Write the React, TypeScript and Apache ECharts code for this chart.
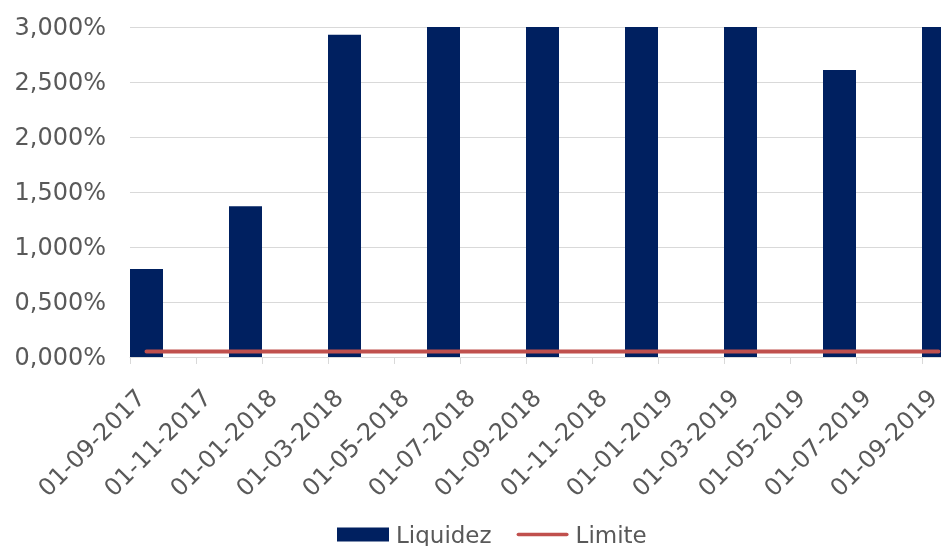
import React, { useEffect, useRef } from "react";
import * as echarts from "echarts";

// Monthly categories: 01-09-2017 ... 01-09-2019
const monthLabels = [
  "01-09-2017", "01-10-2017", "01-11-2017", "01-12-2017", "01-01-2018",
  "01-02-2018", "01-03-2018", "01-04-2018", "01-05-2018", "01-06-2018",
  "01-07-2018", "01-08-2018", "01-09-2018", "01-10-2018", "01-11-2018",
  "01-12-2018", "01-01-2019", "01-02-2019", "01-03-2019", "01-04-2019",
  "01-05-2019", "01-06-2019", "01-07-2019", "01-08-2019", "01-09-2019",
];
// Liquidez (%): quarterly observations, null where no bar
const liquidezValues = [
  0.8, null, null, 1.37, null, null, 2.93, null, null, 3.0, null, null, 3.0,
  null, null, 3.0, null, null, 3.0, null, null, 2.61, null, null, 3.0,
];
// Limite (%): monthly
const limiteValues = [
  0.05, 0.05, 0.05, 0.05, 0.05, 0.05, 0.05, 0.05, 0.05, 0.05, 0.05, 0.05, 0.05,
  0.05, 0.05, 0.05, 0.05, 0.05, 0.05, 0.05, 0.05, 0.05, 0.05, 0.05, 0.05,
];
const yTicks = [0, 0.5, 1, 1.5, 2, 2.5, 3];

const FONT = "DejaVu Sans";
const TEXT = "#595959";
const NAVY = "#002060";
const RED = "#C0504D";

export default function App() {
  const ref = useRef<HTMLDivElement>(null);
  useEffect(() => {
    if (!ref.current) return;
    const chart = echarts.init(ref.current, undefined, { renderer: "svg" });
    const fmtY = (v: number) => v.toFixed(3).replace(".", ",") + "%";
    chart.setOption({
      animation: false,
      textStyle: { fontFamily: FONT },
      grid: {
        left: 130,
        right: -14,
        top: 27,
        bottom: 189,
        containLabel: false,
        outerBoundsMode: "none",
      },
      legend: {
        left: 337,
        top: 523,
        padding: 0,
        itemWidth: 52,
        itemHeight: 14,
        itemGap: 25,
        textStyle: {
          color: TEXT,
          fontSize: 23,
          fontFamily: FONT,
          padding: [0, 0, 0, 2],
        },
        data: [
          { name: "Liquidez", icon: "rect" },
          {
            name: "Limite",
            icon: "path://M2,0 H55 A2,2 0 0 1 55,4 H2 A2,2 0 0 1 2,0 Z",
          },
        ],
      },
      xAxis: {
        type: "category",
        data: monthLabels,
        boundaryGap: true,
        axisLine: { show: true, lineStyle: { color: "#d9d9d9", width: 1 } },
        axisTick: {
          show: true,
          interval: 1,
          alignWithLabel: false,
          length: 7,
          lineStyle: { color: "#d9d9d9" },
        },
        axisLabel: {
          show: true,
          interval: 1,
          rotate: 45,
          margin: 31,
          padding: [0, 8, 0, 0],
          color: TEXT,
          fontSize: 24,
          fontFamily: FONT,
        },
        splitLine: { show: false },
      },
      yAxis: {
        type: "value",
        min: yTicks[0],
        max: yTicks[yTicks.length - 1],
        interval: 0.5,
        axisLine: { show: false },
        axisTick: { show: false },
        splitLine: { lineStyle: { color: "#d9d9d9", width: 1 } },
        axisLabel: {
          margin: 24,
          color: TEXT,
          fontSize: 24,
          fontFamily: FONT,
          formatter: fmtY,
        },
      },
      series: [
        {
          name: "Liquidez",
          type: "bar",
          barCategoryGap: "0%",
          clip: true,
          itemStyle: { color: NAVY },
          data: liquidezValues,
        },
        {
          name: "Limite",
          type: "line",
          symbol: "none",
          showSymbol: false,
          itemStyle: { color: RED },
          lineStyle: { color: RED, width: 4, cap: "round" },
          data: limiteValues,
        },
      ],
    });
    return () => chart.dispose();
  }, []);
  return (
    <div
      ref={ref}
      style={{ position: "fixed", left: 0, top: 0, width: 941, height: 546 }}
    />
  );
}
